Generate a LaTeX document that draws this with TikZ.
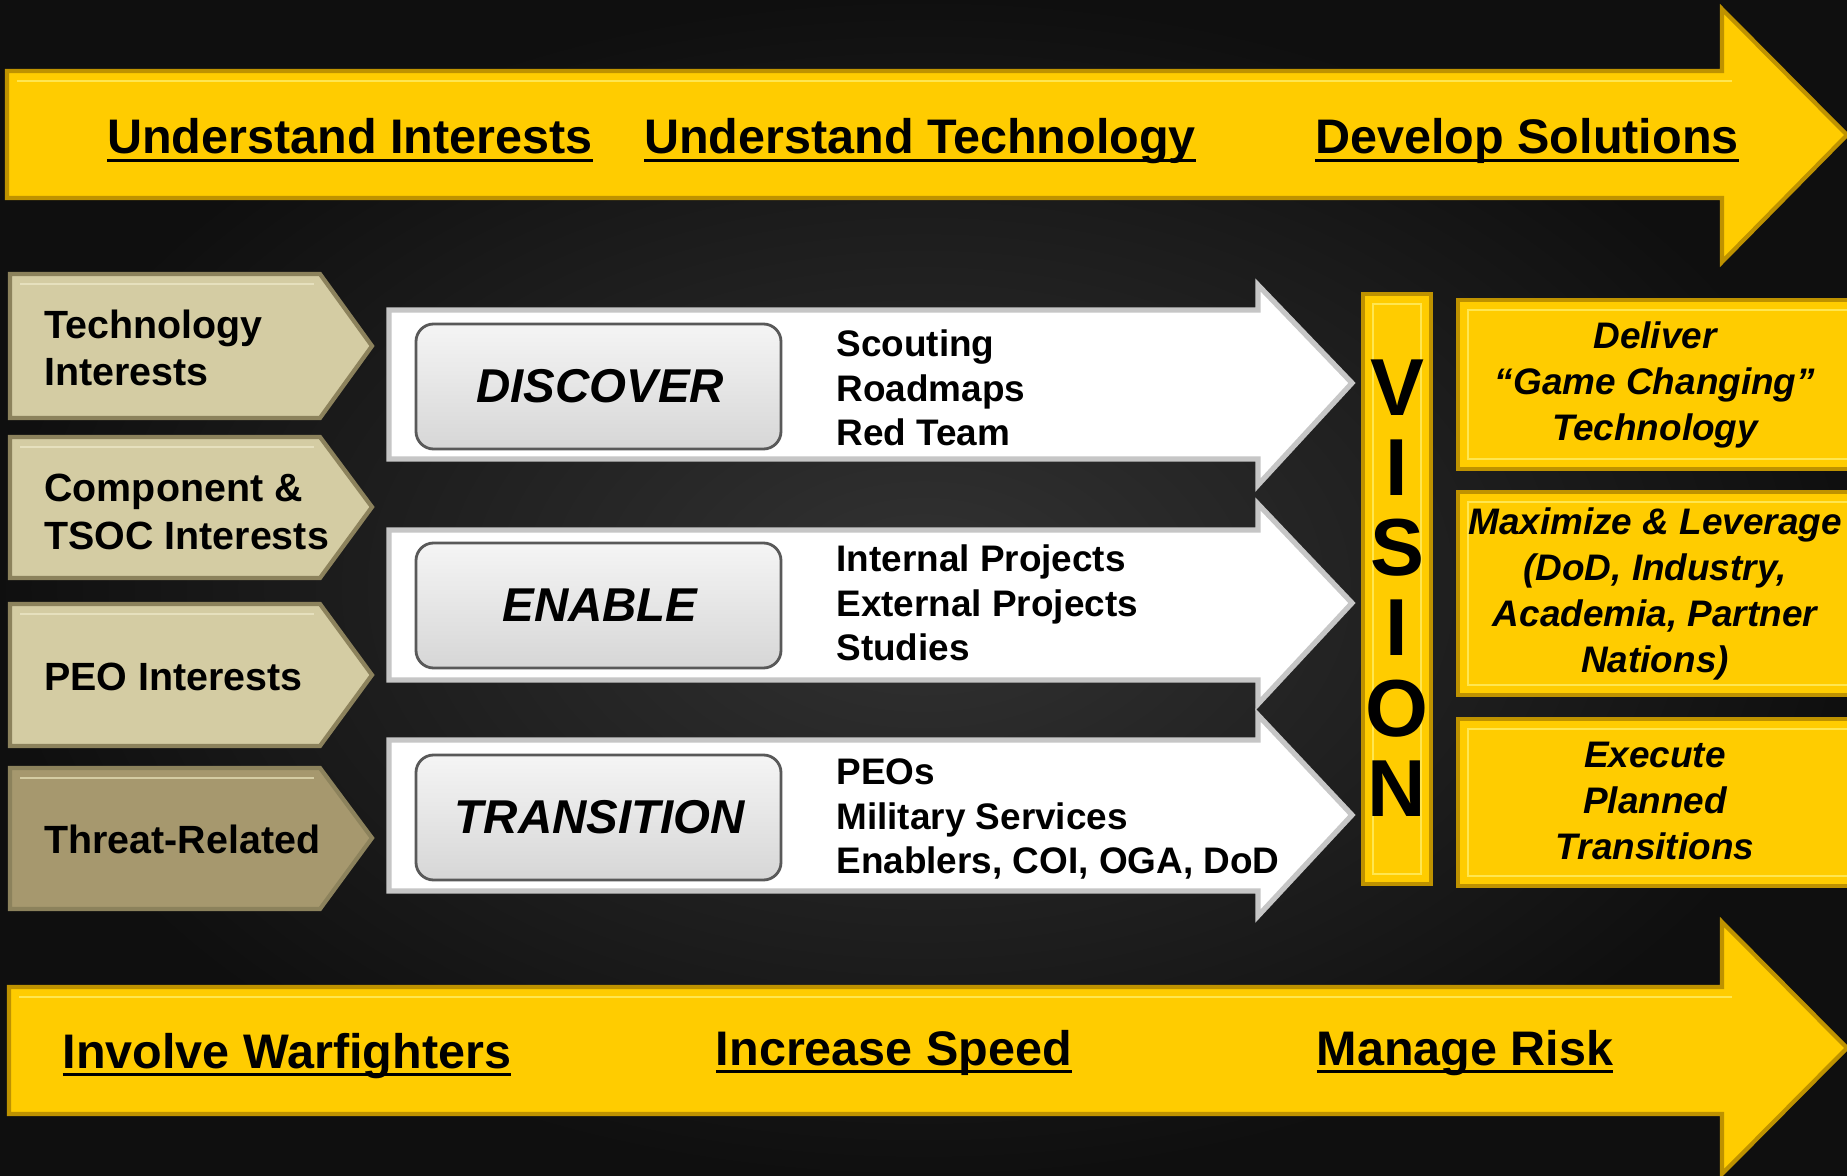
\documentclass[tikz,border=0pt]{standalone}
\usepackage{fontspec}
\setmainfont{Liberation Sans}
\definecolor{vyellow}{RGB}{255,204,0}
\definecolor{vgold}{RGB}{190,146,0}
\definecolor{vlight}{RGB}{255,230,80}
\definecolor{vtan}{RGB}{212,204,163}
\definecolor{vtanlight}{RGB}{230,224,190}
\definecolor{vtandark}{RGB}{140,130,92}
\definecolor{vthreat}{RGB}{166,152,110}
\definecolor{bgdark}{RGB}{22,22,22}
\newcommand{\undl}[1]  {\setbox0=\hbox{#1}\leavevmode\rlap{\vrule height -1.3pt depth 2.4pt width \wd0}\box0}
\newcommand{\hd}       {\fontsize{13.8}{16}\selectfont\bfseries}
\newcommand{\tn}       {\fontsize{11.2}{13.4}\selectfont\bfseries}
\newcommand{\lst}      {\fontsize{10.5}{12.7}\selectfont\bfseries}
\newcommand{\stp}      {\fontsize{13.5}{15}\selectfont\bfseries\itshape}
\newcommand{\gl}       {\fontsize{10.5}{13}\selectfont\bfseries\itshape}
\newcommand{\vis}      {\fontsize{23}{22.8}\selectfont\bfseries}
\tikzset{
  yelarrow/.style={fill=vyellow,draw=vgold,line width=1.2pt,line join=miter},
  yelbox/.style={fill=vyellow,draw=vgold,line width=1.2pt},
  bevel/.style={draw=vlight,line width=0.7pt},
  tanarrow/.style={fill=vtan,draw=vtandark,line width=1.2pt},
  threatarrow/.style={fill=vthreat,draw=vtandark,line width=1.2pt},
  whitearrow/.style={fill=white,draw=gray!45,line width=1.5pt},
  graybox/.style={top color=gray!8,bottom color=gray!32,draw=black!65,line width=0.8pt,rounded corners=5pt}
}

\begin{document}
\begin{tikzpicture}[x=0.01cm,y=-0.01cm]
    \useasboundingbox (0,0) rectangle (1847,1176);
    \fill[bgdark] (0,0) rectangle (1847,1176);
    \shade[inner color=black!80,outer color=black!94] (0,0) rectangle (1847,1176);

    % top band
    \filldraw[yelarrow] (7,71) -- (1722,71) -- (1722,9) -- (1847,135) -- (1722,262) -- (1722,198) -- (7,198) -- cycle;
    \draw[bevel] (17,81) -- (1732,81);
    \node[anchor=base,font=\hd] (ui) at (350,154) {\undl{Understand Interests}};
    \node[anchor=base,font=\hd] (ut) at (920,154) {\undl{Understand Technology}};
    \node[anchor=base,font=\hd] (ds) at (1527,154) {\undl{Develop Solutions}};

    % interests
    \filldraw[tanarrow] (10,274) -- (320,274) -- (372,346) -- (320,418) -- (10,418) -- cycle;
    \filldraw[tanarrow] (10,437) -- (320,437) -- (372,507) -- (320,578) -- (10,578) -- cycle;
    \filldraw[tanarrow] (10,604) -- (320,604) -- (372,675) -- (320,746) -- (10,746) -- cycle;
    \filldraw[threatarrow] (10,768) -- (320,768) -- (372,838) -- (320,909) -- (10,909) -- cycle;
    \draw[vtanlight,line width=0.7pt] (20,284) -- (314,284);
    \draw[vtanlight,line width=0.7pt] (20,447) -- (314,447);
    \draw[vtanlight,line width=0.7pt] (20,614) -- (314,614);
    \draw[vtan,line width=0.7pt] (20,778) -- (314,778);
    \node[anchor=west,align=left,font=\tn] (ti) at (32,348) {Technology\\Interests};
    \node[anchor=west,align=left,font=\tn] (ci) at (32,512) {Component \&\\TSOC Interests};
    \node[anchor=west,align=left,font=\tn] (pi) at (32,677) {PEO Interests};
    \node[anchor=west,align=left,font=\tn] (tr) at (32,839) {Threat-Related};

    % steps
    \filldraw[whitearrow] (389,310) -- (1258,310) -- (1258,285) -- (1352,383) -- (1258,485) -- (1258,459) -- (389,459) -- cycle;
    \filldraw[whitearrow] (389,530) -- (1258,530) -- (1258,504) -- (1352,603) -- (1258,704) -- (1258,680) -- (389,680) -- cycle;
    \filldraw[whitearrow] (389,740) -- (1258,740) -- (1258,715) -- (1352,815) -- (1258,916) -- (1258,891) -- (389,891) -- cycle;
    \shadedraw[graybox] (416,324) rectangle (781,449);
    \shadedraw[graybox] (416,543) rectangle (781,668);
    \shadedraw[graybox] (416,755) rectangle (781,880);
    \node[font=\stp] (dis) at (600,386) {DISCOVER};
    \node[font=\stp] (ena) at (600,605) {ENABLE};
    \node[font=\stp] (tra) at (600,817) {TRANSITION};
    \node[anchor=west,align=left,font=\lst] (dl) at (824,388) {Scouting\\Roadmaps\\Red Team};
    \node[anchor=west,align=left,font=\lst] (el) at (824,603) {Internal Projects\\External Projects\\Studies};
    \node[anchor=west,align=left,font=\lst] (tl) at (824,819) {PEOs\\Military Services\\Enablers, COI, OGA, DoD};

    % vision
    \filldraw[yelbox] (1363,294) rectangle (1431,884);
    \draw[bevel] (1373,304) rectangle (1421,874);
    \node[align=center,font=\vis] (vi) at (1397,588) {V\\I\\S\\I\\O\\N};
    \filldraw[yelbox] (1458,300) rectangle (1860,469);
    \filldraw[yelbox] (1458,492) rectangle (1860,695);
    \filldraw[yelbox] (1458,719) rectangle (1860,886);
    \draw[bevel] (1468,310) rectangle (1850,459);
    \draw[bevel] (1468,502) rectangle (1850,685);
    \draw[bevel] (1468,729) rectangle (1850,876);
    \node[align=center,font=\gl] (gc) at (1655,385) {Deliver\\“Game Changing”\\Technology};
    \node[align=center,font=\gl] (ml) at (1655,594) {Maximize \& Leverage\\(DoD, Industry,\\Academia, Partner\\Nations)};
    \node[align=center,font=\gl] (ep) at (1655,801) {Execute\\Planned\\Transitions};

    % bottom band
    \filldraw[yelarrow] (9,987) -- (1722,987) -- (1722,922) -- (1847,1048) -- (1722,1174) -- (1722,1114) -- (9,1114) -- cycle;
    \draw[bevel] (19,997) -- (1732,997);
    \node[anchor=base,font=\hd] (iw) at (287,1068) {\undl{Involve Warfighters}};
    \node[anchor=base,font=\hd] (is) at (894,1065) {\undl{Increase Speed}};
    \node[anchor=base,font=\hd] (mr) at (1465,1065) {\undl{Manage Risk}};
\end{tikzpicture}
\end{document}
